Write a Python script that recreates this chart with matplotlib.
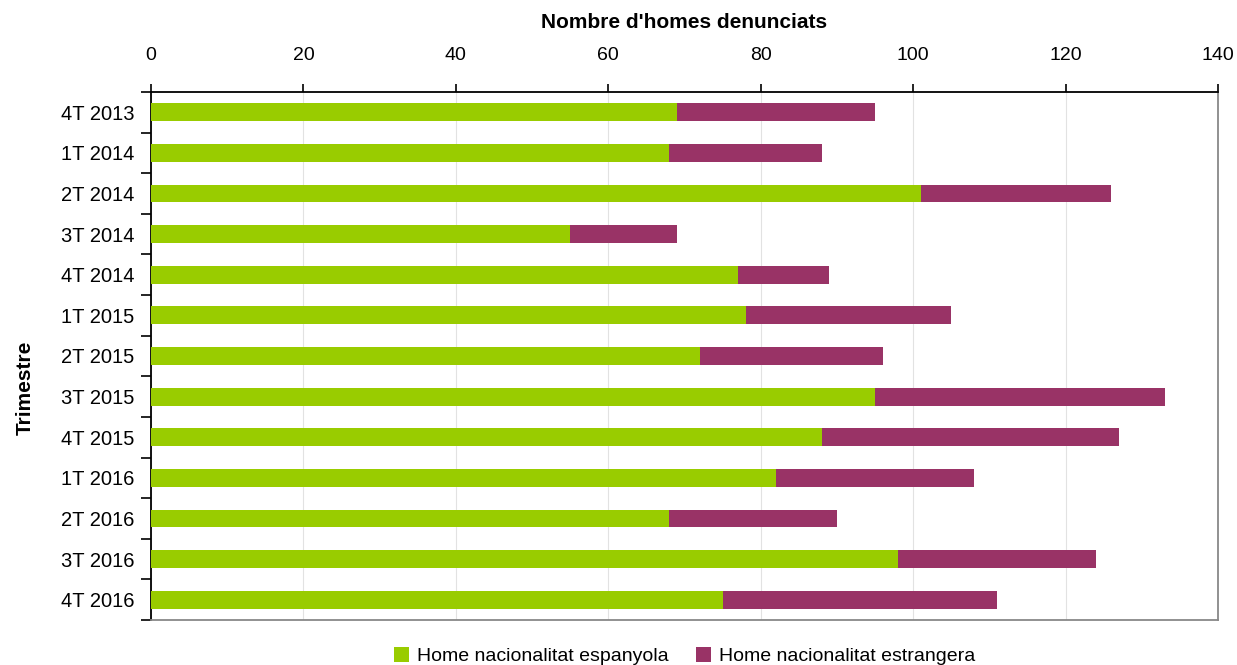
import numpy as np
import matplotlib.pyplot as plt
from matplotlib.ticker import FixedLocator, MultipleLocator

# Quarters and counts
trimestres = ['4T 2013', '1T 2014', '2T 2014', '3T 2014', '4T 2014',
              '1T 2015', '2T 2015', '3T 2015', '4T 2015',
              '1T 2016', '2T 2016', '3T 2016', '4T 2016']
espanyola = [69, 68, 101, 55, 77, 78, 72, 95, 88, 82, 68, 98, 75]
estrangera = [26, 20, 25, 14, 12, 27, 24, 38, 39, 26, 22, 26, 36]

plt.rcParams['font.family'] = ['Liberation Sans', 'DejaVu Sans']

fig = plt.figure(figsize=(12.37, 6.65), dpi=100)
ax = fig.add_axes([0.1221, 0.0677, 0.8626, 0.794])

y = np.arange(len(trimestres))
ax.barh(y, espanyola, height=0.44, color='#99CC00', label='Home nacionalitat espanyola', zorder=3)
ax.barh(y, estrangera, left=espanyola, height=0.44, color='#993366',
        label='Home nacionalitat estrangera', zorder=3)

ax.set_xlim(0, 140)
ax.set_ylim(len(trimestres) - 0.5, -0.5)
ax.xaxis.set_major_locator(MultipleLocator(20))
ax.xaxis.tick_top()
ax.xaxis.set_label_position('top')
ax.tick_params(axis='x', direction='out', length=6, width=1.2, labelsize=14, pad=14)
ax.grid(axis='x', color='#e2e2e2', linewidth=0.8, zorder=0)

ax.set_yticks(y)
ax.set_yticklabels(trimestres)
ax.tick_params(axis='y', which='major', length=0, labelsize=14.5, pad=12)
ax.yaxis.set_minor_locator(FixedLocator(np.arange(-0.5, len(trimestres), 1)))
ax.tick_params(axis='y', which='minor', direction='out', length=7, width=1.2)

for s in ['top', 'left']:
    ax.spines[s].set_color('black')
    ax.spines[s].set_linewidth(1.3)
for s in ['bottom', 'right']:
    ax.spines[s].set_color('#888888')
    ax.spines[s].set_linewidth(1.3)

ax.set_xlabel("Nombre d'homes denunciats", fontsize=15, fontweight='bold', labelpad=14)
ax.set_ylabel('Trimestre', fontsize=15, fontweight='bold')
ax.yaxis.set_label_coords(-0.109, 0.44)

ax.legend(loc='center', bbox_to_anchor=(0.5, -0.068), ncol=2, frameon=False,
          fontsize=14, handlelength=0.8, handleheight=0.8, handletextpad=0.4,
          columnspacing=1.4, borderpad=0)

fig.savefig('out.png', dpi=100)
